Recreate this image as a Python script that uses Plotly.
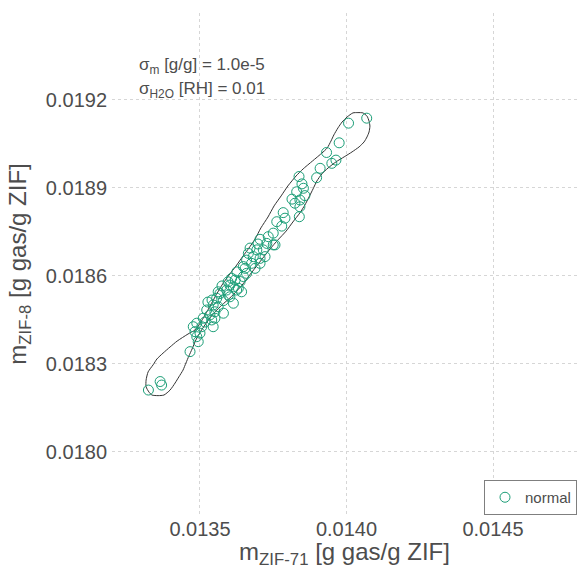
import plotly.graph_objects as go

# Sampled uptake pairs (ZIF-71, ZIF-8), g gas / g ZIF
m_zif71 = [
    0.014069, 0.014007, 0.013975, 0.013932, 0.013964, 0.013950, 0.013910, 0.013898,
    0.013838, 0.013853, 0.013830, 0.013858, 0.013841, 0.013824, 0.013839, 0.013784,
    0.013790, 0.013762, 0.013779, 0.013750, 0.013733, 0.013705, 0.013728, 0.013750,
    0.013716, 0.013694, 0.013665, 0.013682, 0.013659, 0.013705, 0.013676, 0.013648,
    0.013659, 0.013608, 0.013637, 0.013614, 0.013625, 0.013591, 0.013562, 0.013642,
    0.013602, 0.013648, 0.013568, 0.013557, 0.013580, 0.013614, 0.013545, 0.013562,
    0.013523, 0.013551, 0.013580, 0.013534, 0.013511, 0.013540, 0.013489, 0.013506,
    0.013545, 0.013483, 0.013500, 0.013489, 0.013494, 0.013466, 0.013364, 0.013369,
    0.013324, 0.013756, 0.013722, 0.013688, 0.013654, 0.013620, 0.013602, 0.013631,
    0.013551, 0.013477, 0.013597, 0.013705, 0.013841, 0.013814, 0.013848, 0.013671,
    0.013698, 0.013626, 0.013596, 0.013575, 0.013541, 0.013527, 0.013517,
]
m_zif8 = [
    0.019138, 0.019121, 0.019054, 0.019021, 0.018995, 0.018984, 0.018967, 0.018935,
    0.018939, 0.018899, 0.018887, 0.018874, 0.018859, 0.018848, 0.018802, 0.018816,
    0.018797, 0.018785, 0.018770, 0.018746, 0.018734, 0.018725, 0.018711, 0.018706,
    0.018689, 0.018689, 0.018677, 0.018666, 0.018654, 0.018660, 0.018643, 0.018632,
    0.018609, 0.018592, 0.018581, 0.018563, 0.018552, 0.018552, 0.018546, 0.018546,
    0.018529, 0.018598, 0.018540, 0.018524, 0.018516, 0.018507, 0.018501, 0.018495,
    0.018484, 0.018478, 0.018473, 0.018467, 0.018456, 0.018450, 0.018439, 0.018427,
    0.018427, 0.018410, 0.018405, 0.018393, 0.018376, 0.018342, 0.018240, 0.018228,
    0.018211, 0.018706, 0.018666, 0.018626, 0.018626, 0.018586, 0.018569, 0.018558,
    0.018456, 0.018427, 0.018535, 0.018643, 0.018836, 0.018862, 0.018914, 0.018695,
    0.018709, 0.018614, 0.018580, 0.018566, 0.018518, 0.018511, 0.018443,
]

# Density contour enclosing the samples
contour_x = [
    0.014039, 0.014022, 0.014002, 0.013985, 0.013971, 0.013957, 0.013947, 0.013934,
    0.013916, 0.013896, 0.013872, 0.013852, 0.013828, 0.013800, 0.013777, 0.013753,
    0.013732, 0.013708, 0.013688, 0.013667, 0.013647, 0.013623, 0.013599, 0.013575,
    0.013551, 0.013527, 0.013503, 0.013483, 0.013459, 0.013422, 0.013398, 0.013374,
    0.013353, 0.013340, 0.013323, 0.013316, 0.013316, 0.013326, 0.013336, 0.013357,
    0.013377, 0.013398, 0.013415, 0.013428, 0.013442, 0.013452, 0.013462, 0.013473,
    0.013486, 0.013503, 0.013524, 0.013548, 0.013575, 0.013602, 0.013626, 0.013647,
    0.013667, 0.013688, 0.013712, 0.013739, 0.013766, 0.013794, 0.013817, 0.013841,
    0.013858, 0.013872, 0.013886, 0.013899, 0.013916, 0.013937, 0.013964, 0.013992,
    0.014019, 0.014043, 0.014060, 0.014070, 0.014077, 0.014080, 0.014077, 0.014070,
    0.014056, 0.014039,
]
contour_y = [
    0.019157, 0.019156, 0.019142, 0.019125, 0.019105, 0.019081, 0.019060, 0.019036,
    0.019019, 0.019002, 0.018982, 0.018965, 0.018941, 0.018907, 0.018873, 0.018839,
    0.018801, 0.018764, 0.018726, 0.018695, 0.018668, 0.018634, 0.018603, 0.018569,
    0.018528, 0.018484, 0.018443, 0.018416, 0.018402, 0.018378, 0.018358, 0.018337,
    0.018317, 0.018297, 0.018273, 0.018245, 0.018222, 0.018204, 0.018194, 0.018192,
    0.018194, 0.018211, 0.018235, 0.018256, 0.018279, 0.018303, 0.018327, 0.018351,
    0.018382, 0.018412, 0.018443, 0.018474, 0.018501, 0.018525, 0.018549, 0.018573,
    0.018600, 0.018627, 0.018658, 0.018692, 0.018723, 0.018753, 0.018784, 0.018815,
    0.018842, 0.018869, 0.018897, 0.018924, 0.018948, 0.018968, 0.018989, 0.019006,
    0.019023, 0.019040, 0.019057, 0.019074, 0.019091, 0.019111, 0.019128, 0.019145,
    0.019156, 0.019157,
]

x_ticks = [0.0135, 0.0140, 0.0145]
y_ticks = [0.0180, 0.0183, 0.0186, 0.0189, 0.0192]

FONT = "Liberation Sans, Arial, sans-serif"
TXT = "#4d4d4d"
GRID = "#d6d6d6"

fig = go.Figure()
fig.add_trace(go.Scatter(
    x=contour_x, y=contour_y, mode="lines",
    line=dict(color="#333333", width=1, shape="spline", smoothing=0.6),
    showlegend=False, hoverinfo="skip",
))
fig.add_trace(go.Scatter(
    x=m_zif71, y=m_zif8, mode="markers", name="normal",
    marker=dict(symbol="circle-open", size=10, color="#1b9e77", line=dict(width=1)),
))

fig.update_layout(
    width=577, height=569,
    margin=dict(l=112, r=0, t=13, b=54),
    plot_bgcolor="white", paper_bgcolor="white",
    font=dict(family=FONT, color=TXT),
    legend=dict(
        x=1, y=0, xanchor="right", yanchor="bottom",
        bgcolor="white", bordercolor="#7f7f7f", borderwidth=1,
        font=dict(size=15, color=TXT), itemwidth=30,
    ),
    annotations=[
        dict(text="σ<sub>m</sub> [g/g] = 1.0e-5", xref="paper", yref="paper",
             x=0.054, y=0.8944, xanchor="left", yanchor="middle", showarrow=False,
             font=dict(size=17, color=TXT)),
        dict(text="σ<sub>H2O</sub> [RH] = 0.01", xref="paper", yref="paper",
             x=0.054, y=0.8466, xanchor="left", yanchor="middle", showarrow=False,
             font=dict(size=17, color=TXT)),
    ],
)
fig.update_xaxes(
    range=[0.0131997, 0.0147867], tickvals=x_ticks, tickformat=".4f",
    showgrid=True, gridcolor=GRID, griddash="3px,3px", gridwidth=1,
    zeroline=False, showline=False, ticks="",
    tickfont=dict(size=20, color=TXT),
    title=dict(text="m<sub>ZIF-71</sub> [g gas/g ZIF]", font=dict(size=24, color=TXT), standoff=4),
)
fig.update_yaxes(
    range=[0.017785, 0.0194966], tickvals=y_ticks, tickformat=".4f",
    showgrid=True, gridcolor=GRID, griddash="3px,3px", gridwidth=1,
    zeroline=False, showline=False, ticks="", ticklabelstandoff=4,
    tickfont=dict(size=20, color=TXT),
    title=dict(text="m<sub>ZIF-8</sub> [g gas/g ZIF]", font=dict(size=24, color=TXT), standoff=12),
)

fig.write_html("out.html")
